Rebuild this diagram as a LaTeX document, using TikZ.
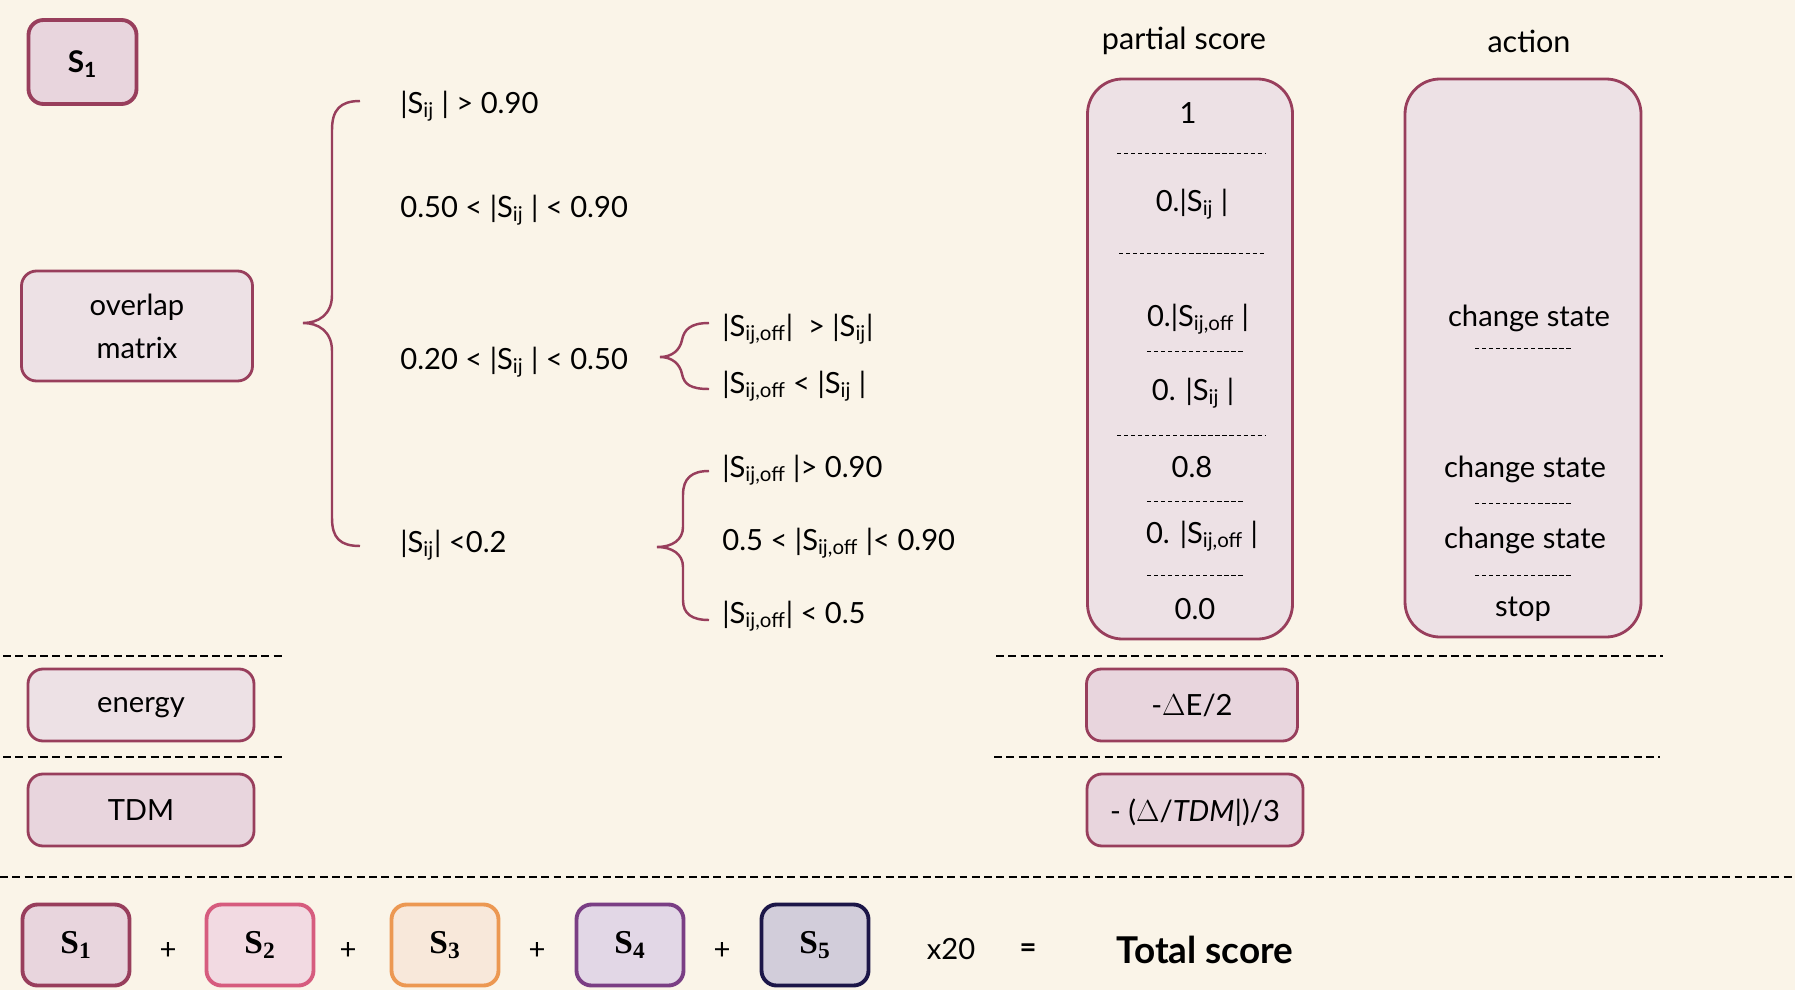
\documentclass[tikz,border=0pt]{standalone}
\usepackage{fontspec}
\setmainfont{Lato}
\newfontfamily\serifS{Liberation Serif}
\usetikzlibrary{positioning}
\definecolor{bgcol}{RGB}{250,244,232}
\definecolor{rose}{RGB}{152,62,92}
\definecolor{rosefill}{RGB}{232,213,221}
\definecolor{palefill}{RGB}{237,225,229}
\definecolor{pinkline}{RGB}{214,92,126}
\definecolor{pinkfill}{RGB}{242,218,226}
\definecolor{orgline}{RGB}{236,152,82}
\definecolor{orgfill}{RGB}{248,232,218}
\definecolor{purpline}{RGB}{122,62,132}
\definecolor{purpfill}{RGB}{226,215,230}
\definecolor{navyline}{RGB}{28,22,72}
\definecolor{navyfill}{RGB}{210,205,218}
\newcommand{\Sij}{S\textsubscript{ij}}
\newcommand{\Soff}{S\textsubscript{ij,off}}

\begin{document}
\begin{tikzpicture}[x=0.2mm, y=-0.2mm, font=\fontsize{16.6}{21}\selectfont,
  box/.style={draw=rose, line width=1.6pt, fill=palefill, rounded corners=3mm, align=center, inner sep=0pt, text depth=0pt},
  bigbox/.style={box, rounded corners=7mm},
  sbox/.style={line width=2.2pt, rounded corners=3mm, inner sep=0pt, minimum width=21.4mm, minimum height=16.2mm, font=\fontsize{19}{21}\selectfont\serifS\bfseries},
  brc/.style={draw=rose, line width=1.4pt},
  sep/.style={dash pattern=on 4.5pt off 2.5pt, line width=0.7pt},
  minisep/.style={dash pattern=on 2.4pt off 1.6pt, line width=0.5pt},
  cond/.style={anchor=west, inner sep=0pt}]
\fill[bgcol] (0,0) rectangle (1795,990);
\useasboundingbox (0,0) rectangle (1795,990);

% left column
\node[box, line width=2.2pt, fill=rosefill, minimum width=21.6mm, minimum height=16.8mm, font=\fontsize{17}{21}\selectfont\bfseries] (s1) at (82.5,62) {S\textsubscript{1}};
\node[box, minimum width=46.2mm, minimum height=22mm, font=\fontsize{16.6}{24.5}\selectfont] (ovl) at (137,326) {overlap\\matrix};
\node[box, minimum width=45.2mm, minimum height=14.4mm] (en) at (141,705) {energy};
\node[box, fill=rosefill, minimum width=45.2mm, minimum height=14.4mm] (tdm) at (141,810) {TDM};

% conditions
\node[cond] (c1) at (400,106) {|\Sij\ | > 0.90};
\node[cond] (c2) at (400,210) {0.50 < |\Sij\ | < 0.90};
\node[cond] (c3) at (400,362) {0.20 < |\Sij\ | < 0.50};
\node[cond] (c4) at (400,545) {|\Sij| <0.2};
\node[cond] (c31) at (722,329) {|\Soff|\ \ > |\Sij|};
\node[cond] (c32) at (722,386) {|\Soff\ < |\Sij\ |};
\node[cond] (c41) at (722,470) {|\Soff\ |> 0.90};
\node[cond] (c42) at (722,543) {0.5 < |\Soff\ |< 0.90};
\node[cond] (c43) at (722,616) {|\Soff| < 0.5};

% braces
\draw[brc] (360,101) .. controls (340,101) and (332,110) .. (332,130) -- (332,295) .. controls (332,315) and (318,323) .. (303,323) .. controls (318,323) and (332,331) .. (332,351) -- (332,518) .. controls (332,538) and (340,546) .. (360,546);
\draw[brc] (709,323) .. controls (690,323) and (684,330) .. (682,340) .. controls (680,350) and (672,357) .. (660,357) .. controls (672,357) and (680,364) .. (682,374) .. controls (684,384) and (690,389) .. (709,389);
\draw[brc] (709,471) .. controls (692,471) and (683,478) .. (683,495) -- (683,527) .. controls (683,540) and (672,547) .. (657,547) .. controls (672,547) and (683,554) .. (683,567) -- (683,600) .. controls (683,614) and (692,620) .. (709,620);

% headers
\node[font=\fontsize{17.4}{21}\selectfont] (hps) at (1184,41) {partial score};
\node[font=\fontsize{17.4}{21}\selectfont] (hact) at (1529,41) {action};

% partial score column
\node[bigbox, minimum width=41mm, minimum height=112mm] (ps) at (1190,359) {};
\node (ps1) at (1188,113) {1};
\node (ps2) at (1192,204) {0.|\Sij\ |};
\node (ps3) at (1198,319) {0.|\Soff\ |};
\node (ps4) at (1193,393) {0. |\Sij\ |};
\node (ps5) at (1192,467) {0.8};
\node (ps6) at (1202,536) {0. |\Soff\ |};
\node (ps7) at (1195,609) {0.0};
\draw[minisep] (1117,153) -- (1265,153);
\draw[minisep] (1119,253) -- (1266,253);
\draw[minisep] (1147,351) -- (1244,351);
\draw[minisep] (1117,435) -- (1265,435);
\draw[minisep] (1147,501) -- (1244,501);
\draw[minisep] (1147,575) -- (1244,575);

% action column
\node[bigbox, minimum width=47.2mm, minimum height=111.6mm] (act) at (1523,358) {};
\node (a1) at (1529,318) {change state};
\node (a2) at (1525,469) {change state};
\node (a3) at (1525,540) {change state};
\node (a4) at (1523,609) {stop};
\draw[minisep] (1475,348) -- (1572,348);
\draw[minisep] (1475,503) -- (1572,503);
\draw[minisep] (1475,575) -- (1572,575);

\node[box, fill=rosefill, minimum width=42.2mm, minimum height=14.4mm] (de) at (1192,705) {-$\Delta$E/2};
\node[box, fill=rosefill, minimum width=43.2mm, minimum height=14.4mm] (dt) at (1195,810) {- ($\Delta$/\textit{TDM|})/3};

% separators
\draw[sep] (3,656) -- (285,656);
\draw[sep] (3,757) -- (285,757);
\draw[sep] (996,656) -- (1663,656);
\draw[sep] (994,757) -- (1660,757);
\draw[sep] (0,877) -- (1795,877);

% total score
\node[sbox, draw=rose, fill=rosefill] (b1) at (76,945) {S\textsubscript{1}};
\node[sbox, draw=pinkline, fill=pinkfill] (b2) at (260,945) {S\textsubscript{2}};
\node[sbox, draw=orgline, fill=orgfill] (b3) at (445,945) {S\textsubscript{3}};
\node[sbox, draw=purpline, fill=purpfill] (b4) at (630,945) {S\textsubscript{4}};
\node[sbox, draw=navyline, fill=navyfill] (b5) at (815,945) {S\textsubscript{5}};
\node (p1) at (168,951) {+};
\node (p2) at (348,951) {+};
\node (p3) at (537,951) {+};
\node (p4) at (722,951) {+};
\node (x20) at (951,949) {x20};
\node (eq) at (1028,951) {\textbf{=}};
\node[font=\fontsize{21}{24}\selectfont\bfseries] (tot) at (1205,950) {Total score};
\end{tikzpicture}
\end{document}
